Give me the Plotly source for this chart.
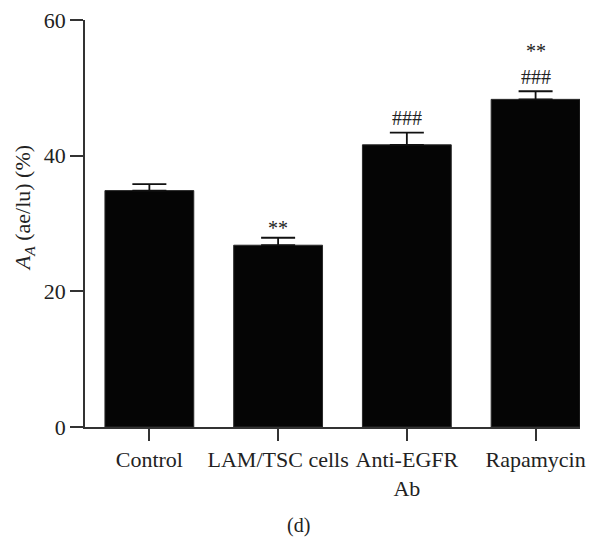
import plotly.graph_objects as go

categories = ["Control", "LAM/TSC cells", "Anti-EGFR<br>Ab", "Rapamycin"]
values = [34.85, 26.8, 41.6, 48.3]
errors = [0.95, 1.1, 1.8, 1.2]
tick_values = [0, 20, 40, 60]

# significance labels: (category index, y position, text)
sig_cats = [1, 2, 3, 3]
sig_y = [29.4, 45.6, 51.6, 55.5]
sig_text = ["**", "###", "###", "**"]

FONT = "Liberation Serif"

fig = go.Figure()
fig.add_trace(go.Bar(
    x=list(range(len(categories))),
    y=values,
    width=0.69,
    marker=dict(color="#050505", line=dict(color="#2a2a2a", width=1)),
    error_y=dict(type="data", symmetric=False, array=errors,
                 arrayminus=[0] * len(errors), color="#111111",
                 thickness=1.8, width=17),
))

for ci, yy, tt in zip(sig_cats, sig_y, sig_text):
    fig.add_annotation(x=ci, y=yy, text=tt, showarrow=False,
                       font=dict(family=FONT, size=20, color="#222222"),
                       xref="x", yref="y", yanchor="middle")

# y-axis title (placed as rotated text to match reference position)
fig.add_annotation(x=-0.123, y=0.538, xref="paper", yref="paper",
                   text="<i>A</i><sub><i>A</i></sub> (ae/lu) (%)",
                   textangle=-90, showarrow=False,
                   xanchor="center", yanchor="middle",
                   font=dict(family=FONT, size=22, color="#222222"))

fig.add_annotation(x=0.432, y=-0.242, xref="paper", yref="paper",
                   text="(d)", showarrow=False, yanchor="middle",
                   font=dict(family=FONT, size=20, color="#222222"))

fig.update_layout(
    width=593, height=538,
    margin=dict(l=85, r=13, t=20, b=111, autoexpand=False),
    plot_bgcolor="white", paper_bgcolor="white",
    showlegend=False,
    font=dict(family=FONT, size=22, color="#222222"),
)
fig.update_xaxes(
    tickmode="array", tickvals=list(range(len(categories))), ticktext=categories,
    range=[-0.5, 3.345], showline=True, linecolor="#333333", linewidth=1.5,
    ticks="outside", ticklen=12, tickwidth=1.5, tickcolor="#333333",
    showgrid=False, zeroline=False, tickfont=dict(size=22, family=FONT),
    automargin=False, ticklabeloverflow="allow",
)
fig.update_yaxes(
    range=[0, 60], tickvals=tick_values, showline=True, linecolor="#333333",
    linewidth=1.5, ticks="outside", ticklen=13, tickwidth=1.5,
    tickcolor="#333333", showgrid=False, zeroline=False,
    tickfont=dict(size=22, family=FONT), automargin=False,
    ticklabeloverflow="allow",
)

fig.write_html(
    "out.html",
    config={"displayModeBar": False},
    post_script="document.body.style.margin='0';document.body.style.overflow='hidden';",
)
